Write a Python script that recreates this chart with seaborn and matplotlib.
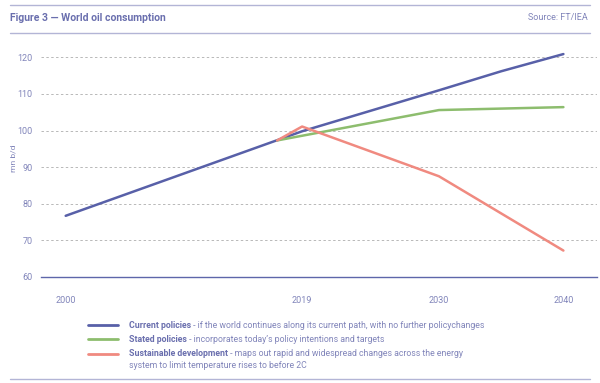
import numpy as np
import pandas as pd
import matplotlib
matplotlib.use("Agg")
import matplotlib.pyplot as plt
import seaborn as sns
from matplotlib.lines import Line2D

# --- DATA ---
years_current = [2000, 2019, 2030, 2035, 2040]
current_policies = [76.7, 99.8, 111.0, 116.2, 120.9]

years_stated = [2017, 2030, 2040]
stated_policies = [97.3, 105.6, 106.4]

years_sustainable = [2017, 2019, 2030, 2040]
sustainable_dev = [97.3, 101.1, 87.5, 67.2]

x_ticks = [2000, 2019, 2030, 2040]
y_ticks = [60, 70, 80, 90, 100, 110, 120]

scenarios = ["Current policies", "Stated policies", "Sustainable development"]
descriptions = [
    " - if the world continues along its current path, with no further policychanges",
    " - incorporates today\u2019s policy intentions and targets",
    " - maps out rapid and widespread changes across the energy",
]
extra_line = "system to limit temperature rises to before 2C"

# --- STYLE ---
TEXT = "#8185ba"
TEXT_DARK = "#6a6fae"
AXIS = "#5e66aa"
RULE = "#b3b5d6"
palette = {
    "Current policies": "#5860a8",
    "Stated policies": "#8dbd6e",
    "Sustainable development": "#f08a80",
}

df = pd.concat([
    pd.DataFrame({"year": years_current, "value": current_policies, "scenario": scenarios[0]}),
    pd.DataFrame({"year": years_stated, "value": stated_policies, "scenario": scenarios[1]}),
    pd.DataFrame({"year": years_sustainable, "value": sustainable_dev, "scenario": scenarios[2]}),
])

sns.set_style("white")
plt.rcParams["font.family"] = ["Roboto", "DejaVu Sans"]

fig = plt.figure(figsize=(6, 3.83), dpi=100)
ax = fig.add_axes([0.068, 0.277, 0.927, 0.621])

sns.lineplot(data=df, x="year", y="value", hue="scenario", palette=palette,
             linewidth=1.8, legend=False, ax=ax, sort=False)

ax.set_xlim(1998, 2042.7)
ax.set_ylim(60, 125)
ax.set_xticks(x_ticks)
ax.set_yticks(y_ticks)
ax.set_xlabel("")
ax.set_ylabel("mn b/d", color=TEXT, fontsize=6, labelpad=0.5)

for s in ["top", "right", "left"]:
    ax.spines[s].set_visible(False)
ax.spines["bottom"].set_color(AXIS)
ax.spines["bottom"].set_linewidth(1.0)

ax.tick_params(axis="x", colors=AXIS, length=6, width=1.0, pad=8,
               labelsize=6.5, labelcolor=TEXT)
ax.tick_params(axis="y", length=0, pad=6, labelsize=6.5, labelcolor=TEXT)

for yv in y_ticks[1:]:
    ax.axhline(yv, color="#b8b8b8", linewidth=0.7, linestyle=(0, (2.5, 2.5)), zorder=0)

# --- HEADER ---
fig.add_artist(Line2D([10 / 600, 590 / 600], [1 - 5 / 383] * 2, color=RULE, lw=1.0))
fig.add_artist(Line2D([10 / 600, 590 / 600], [1 - 33 / 383] * 2, color=RULE, lw=1.0))
fig.add_artist(Line2D([10 / 600, 590 / 600], [1 - 379 / 383] * 2, color=RULE, lw=1.0))
fig.text(10 / 600, 1 - 18 / 383, "Figure 3 \u2014 World oil consumption", color=TEXT_DARK,
         fontsize=7.5, fontweight="bold", va="center", ha="left")
fig.text(588 / 600, 1 - 18 / 383, "Source: FT/IEA", color=TEXT,
         fontsize=6.5, va="center", ha="right")

# --- LEGEND (bold name + normal description) ---
renderer = fig.canvas.get_renderer()
rows_y = [325, 339, 354]
for name, desc, yy in zip(scenarios, descriptions, rows_y):
    yf = 1 - yy / 383
    fig.add_artist(Line2D([88 / 600, 118 / 600], [yf, yf], color=palette[name], lw=2.0))
    t = fig.text(129 / 600, yf, name, color=TEXT_DARK, fontsize=6.3,
                 fontweight="bold", va="center", ha="left")
    bb = t.get_window_extent(renderer=renderer)
    fig.text(bb.x1 / fig.bbox.width, yf, desc, color=TEXT, fontsize=6.3,
             va="center", ha="left")
fig.text(129 / 600, 1 - 366 / 383, extra_line, color=TEXT, fontsize=6.3,
         va="center", ha="left")

fig.savefig("out.png", dpi=100)
